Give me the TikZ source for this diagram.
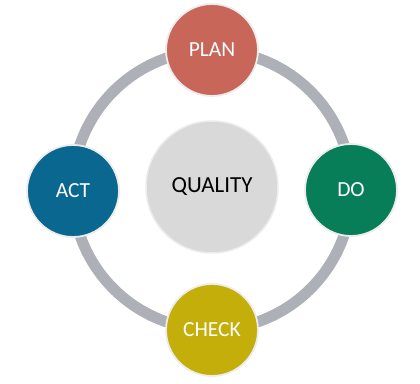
\documentclass[tikz,border=0pt]{standalone}
\usepackage{fontspec}
\setmainfont{Carlito}
\definecolor{ringgrey}{RGB}{173,177,183}
\definecolor{plancol}{RGB}{200,102,90}
\definecolor{docol}{RGB}{8,126,88}
\definecolor{checkcol}{RGB}{196,174,10}
\definecolor{actcol}{RGB}{10,103,143}
\definecolor{qualcol}{RGB}{217,217,217}
\definecolor{rimcol}{RGB}{236,236,236}
\tikzset{
  phase/.style={circle, minimum size=92pt, inner sep=0pt, draw=rimcol, line width=1.8pt,
    text=white, font=\fontsize{21.5pt}{23pt}\selectfont},
  centre/.style={circle, minimum size=132pt, inner sep=0pt, draw=rimcol, line width=1.5pt,
    fill=qualcol, text=black, font=\fontsize{23pt}{25pt}\selectfont},
  ringline/.style={draw=ringgrey, line width=11pt}
}
\begin{document}
\begin{tikzpicture}[x=1pt,y=1pt]
\useasboundingbox (0,0) rectangle (420,383);
\coordinate (c) at (212,193);
\draw[ringline] (c) circle (139.5pt);
\node[centre] (q) at (212,196) {QUALITY};
\node[phase, fill=plancol] (plan) at (212,333) {PLAN};
\node[phase, fill=docol] (do) at (351,193) {DO};
\node[phase, fill=checkcol] (check) at (212,53) {CHECK};
\node[phase, fill=actcol] (act) at (73,192) {ACT};
\end{tikzpicture}
\end{document}
